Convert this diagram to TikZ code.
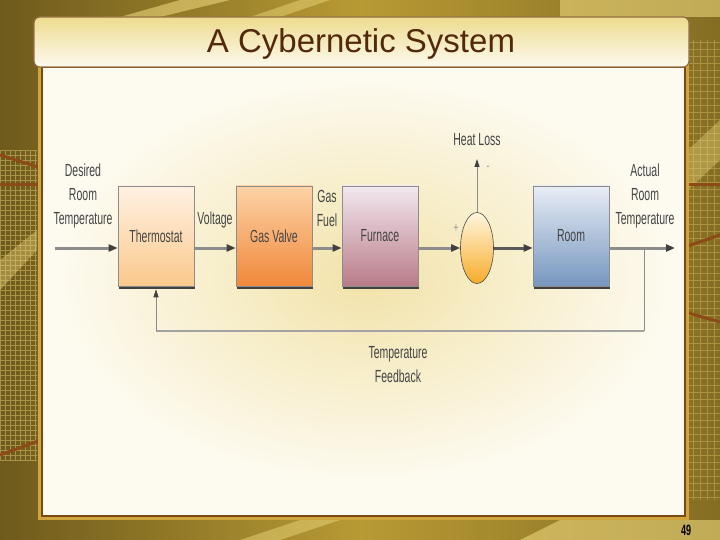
\documentclass[tikz,border=0pt]{standalone}
\usepackage{fontspec}
\setmainfont{Liberation Sans}
\newfontfamily\narrowfont{Liberation Sans}[FakeStretch=0.6]
\usetikzlibrary{arrows.meta,shapes.geometric,shadows,calc}

\definecolor{bgdark}{HTML}{6E5A1C}
\definecolor{bggold}{HTML}{B89A34}
\definecolor{bglight}{HTML}{EAD57A}
\definecolor{rust}{HTML}{8B4A16}
\definecolor{panelbrown}{HTML}{7B4A14}
\definecolor{framegold}{HTML}{CFA63E}
\definecolor{cream}{HTML}{FDFAEF}
\definecolor{glow}{HTML}{F2E3AA}
\definecolor{titlebrown}{HTML}{52290B}
\definecolor{lblgray}{HTML}{454545}
\definecolor{linegray}{HTML}{8C8C8C}
\definecolor{thermotop}{HTML}{FFF1E2}
\definecolor{thermobot}{HTML}{FBC98C}
\definecolor{valvetop}{HTML}{FDD3A6}
\definecolor{valvebot}{HTML}{F0883A}
\definecolor{furntop}{HTML}{F3E8EF}
\definecolor{furnbot}{HTML}{B87B88}
\definecolor{roomtop}{HTML}{E8EDF5}
\definecolor{roombot}{HTML}{7696BF}
\definecolor{sumtop}{HTML}{FFF6DE}
\definecolor{sumbot}{HTML}{F7AC2A}

\tikzset{
    lbl/.style={font=\narrowfont\fontsize{17.5}{24}\selectfont, text=lblgray, align=center, inner sep=0pt},
    block/.style={draw=black!45, line width=0.6pt, minimum width=76pt, minimum height=100pt,
        inner sep=0pt, font=\narrowfont\fontsize{17.5}{24}\selectfont, text=lblgray,
        drop shadow={shadow xshift=1pt, shadow yshift=-3pt, opacity=1, fill=black!75}},
    flow/.style={line width=3pt, draw=linegray, -{Triangle[length=9pt,width=7pt,color=black!75]}},
    thinflow/.style={line width=0.8pt, draw=linegray, -{Triangle[length=8pt,width=5pt,color=black!75]}}
}

\begin{document}
\begin{tikzpicture}[x=1pt, y=-1pt]

    \useasboundingbox (0,0) rectangle (720,540);

    % Background
    \fill[left color=bgdark, right color=bggold] (0,0) rectangle (360,540);
    \fill[left color=bggold, right color=bgdark!70!bggold] (360,0) rectangle (720,540);
    \fill[bglight, opacity=0.6] (120,17) -- (180,0) -- (230,0) -- (160,17) -- cycle;
    \fill[bglight, opacity=0.5] (250,17) -- (300,0) -- (330,0) -- (280,17) -- cycle;
    \fill[bglight, opacity=0.6] (560,0) rectangle (720,17);
    \fill[bglight, opacity=0.5] (240,540) -- (300,520) -- (340,520) -- (280,540) -- cycle;
    \fill[bglight, opacity=0.6] (520,540) -- (560,520) -- (720,520) -- (720,540) -- cycle;
    \fill[bglight, opacity=0.4] (0,260) -- (37,230) -- (37,250) -- (0,290) -- cycle;
    \fill[bglight, opacity=0.4] (688,150) -- (720,120) -- (720,160) -- (688,190) -- cycle;
    \begin{scope}
        \clip (0,150) rectangle (37,460);
        \draw[bglight, opacity=0.45, line width=0.6pt, step=5pt] (0,150) grid (40,460);
    \end{scope}
    \begin{scope}
        \clip (688,40) rectangle (720,500);
        \draw[bglight, opacity=0.35, line width=0.6pt, step=7pt] (685,40) grid (720,500);
    \end{scope}
    \draw[rust, line width=3pt] (0,155) -- (41,168);
    \draw[rust, line width=3pt] (0,185) -- (41,185);
    \draw[rust, line width=3pt] (0,455) -- (41,440);
    \draw[rust, line width=3pt] (685,185) -- (720,185);
    \draw[rust, line width=3pt] (685,247) -- (720,235);
    \draw[rust, line width=3pt] (685,312) -- (720,322);

    % Panel
    \fill[framegold] (38,63) rectangle (689,520);
    \fill[cream] (42,67) rectangle (685,516);
    \shade[inner color=glow, outer color=cream] (60,80) rectangle (670,480);
    \draw[panelbrown, line width=2.5pt] (42,67) rectangle (685,516);

    % Title bar
    \draw[rounded corners=6pt, draw=panelbrown!80, line width=1.2pt, top color=bglight!85, bottom color=cream]
        (34,17) rectangle (689,67);
    \node[font=\fontsize{33}{36}\selectfont, text=titlebrown] (title) at (361,44) {A Cybernetic System};

    % Blocks
    \node[block, top color=thermotop, bottom color=thermobot] (thermo) at (156,236) {Thermostat};
    \node[block, top color=valvetop, bottom color=valvebot] (valve) at (274,236) {Gas Valve};
    \node[block, top color=furntop, bottom color=furnbot] (furnace) at (380,236) {Furnace};
    \node[block, top color=roomtop, bottom color=roombot] (room) at (571,236) {Room};
    \node[ellipse, draw=black!70, line width=0.6pt, minimum width=33pt, minimum height=71pt,
        inner sep=0pt, top color=sumtop, bottom color=sumbot] (sum) at (477,248) {};

    % Labels
    \node[lbl] (desired) at (83,196) {Desired\\Room\\Temperature};
    \node[lbl] (voltage) at (215,220) {Voltage};
    \node[lbl] (gasfuel) at (327,208) {Gas\\Fuel};
    \node[lbl] (heatloss) at (477,140) {Heat Loss};
    \node[lbl, font=\narrowfont\fontsize{14}{14}\selectfont, text=black!40] (minus) at (488,168) {-};
    \node[lbl, font=\narrowfont\fontsize{14}{14}\selectfont, text=black!40] (plus) at (456,228) {+};
    \node[lbl] (actual) at (645,196) {Actual\\Room\\Temperature};
    \node[lbl] (feedback) at (398,365) {Temperature\\Feedback};
    \node[font=\narrowfont\bfseries\fontsize{15}{15}\selectfont, inner sep=0pt] (pagenum) at (686,530) {49};

    % Free ends
    \coordinate (in) at (55,248);
    \coordinate (out) at (675,248);
    \coordinate (loss) at (477,159);
    \coordinate (tap) at (644,248);
    \coordinate (fbcorner) at (644,331);

    % Signal path
    \draw[flow] (in) -- ([yshift=-12pt]thermo.west);
    \draw[flow] ([yshift=-12pt]thermo.east) -- ([yshift=-12pt]valve.west);
    \draw[flow] ([yshift=-12pt]valve.east) -- ([yshift=-12pt]furnace.west);
    \draw[flow] ([yshift=-12pt]furnace.east) -- (sum.west);
    \draw[flow, draw=black!65] (sum.east) -- ([yshift=-12pt]room.west);
    \draw[flow] ([yshift=-12pt]room.east) -- (out);
    \draw[thinflow] (sum.north) -- (loss);

    % Feedback loop
    \draw[line width=0.8pt, draw=linegray] (tap) -- (fbcorner);
    \draw[line width=2pt, draw=linegray!80] (fbcorner) -- (thermo.south |- fbcorner);
    \draw[thinflow] (thermo.south |- fbcorner) -- ([yshift=-3pt]thermo.south);

\end{tikzpicture}
\end{document}
